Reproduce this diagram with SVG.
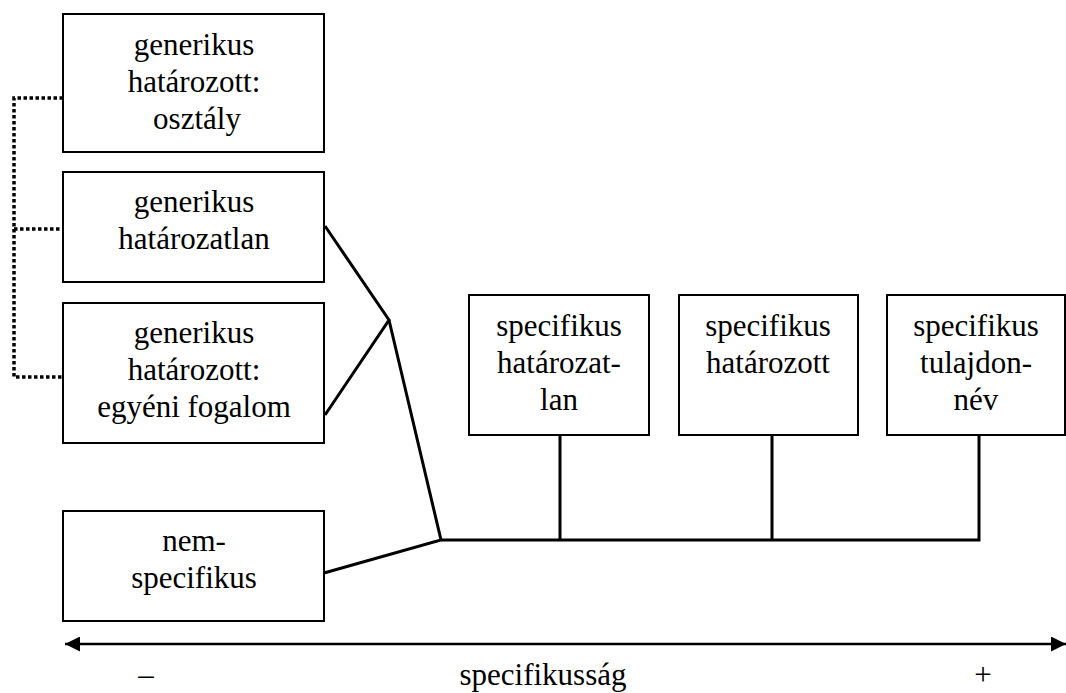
<svg xmlns="http://www.w3.org/2000/svg" width="1066" height="693" viewBox="0 0 1066 693">
<style>
.box{fill:#fff;stroke:#000;stroke-width:2}
.t{font-family:"Liberation Serif","Times New Roman",serif;font-size:31px;fill:#000;text-anchor:middle}
.ln{fill:none;stroke:#000;stroke-width:3;stroke-linejoin:miter}
.dot{fill:none;stroke:#000;stroke-width:3.5;stroke-dasharray:3.5 2.5}
.ax{stroke:#000;stroke-width:2.5}
</style>
<defs>
<marker id="ah" viewBox="0 0 10 10" refX="10" refY="5" markerWidth="6" markerHeight="6" orient="auto-start-reverse" markerUnits="strokeWidth">
<path d="M0,0 L10,5 L0,10 Z" fill="#000"/>
</marker>
</defs>
<rect width="1066" height="693" fill="#fff"/>
<g id="connectors">
<path class="dot" d="M63,98 H14 V377 H63 M14,229 H63"/>
<path class="ln" d="M325,226 L389,320 L325,415"/>
<path class="ln" d="M389,320 L441,540 L324,573"/>
<path class="ln" d="M441,540 H979 V435 M560,540 V435 M772,540 V435"/>
<line class="ax" x1="65" y1="644" x2="1066" y2="644" marker-start="url(#ah)" marker-end="url(#ah)"/>
</g>
<g id="n1">
<rect class="box" x="63" y="14" width="261" height="138"/>
<text class="t" x="194" y="55">generikus</text>
<text class="t" x="194" y="92">határozott:</text>
<text class="t" x="197" y="129">osztály</text>
</g>
<g id="n2">
<rect class="box" x="63" y="172" width="261" height="110"/>
<text class="t" x="194" y="212">generikus</text>
<text class="t" x="194" y="249">határozatlan</text>
</g>
<g id="n3">
<rect class="box" x="63" y="303" width="261" height="140"/>
<text class="t" x="194" y="343">generikus</text>
<text class="t" x="194" y="380">határozott:</text>
<text class="t" x="194" y="417">egyéni fogalom</text>
</g>
<g id="n4">
<rect class="box" x="63" y="511" width="261" height="110"/>
<text class="t" x="194" y="551">nem-</text>
<text class="t" x="194" y="588">specifikus</text>
</g>
<g id="s1">
<rect class="box" x="469" y="295" width="180" height="140"/>
<text class="t" x="559" y="336">specifikus</text>
<text class="t" x="559" y="373">határozat-</text>
<text class="t" x="559" y="410">lan</text>
</g>
<g id="s2">
<rect class="box" x="679" y="295" width="179" height="140"/>
<text class="t" x="768" y="336">specifikus</text>
<text class="t" x="768" y="373">határozott</text>
</g>
<g id="s3">
<rect class="box" x="887" y="295" width="178" height="140"/>
<text class="t" x="976" y="336">specifikus</text>
<text class="t" x="976" y="373">tulajdon-</text>
<text class="t" x="976" y="410">név</text>
</g>
<g id="axis-labels">
<text class="t" x="146" y="685">–</text>
<text class="t" x="543" y="685">specifikusság</text>
<text class="t" x="983" y="685">+</text>
</g>
</svg>
